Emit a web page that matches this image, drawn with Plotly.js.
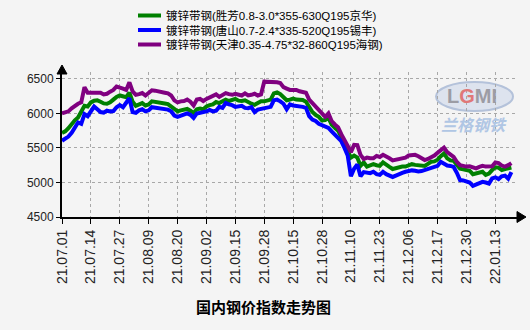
<!DOCTYPE html>
<html><head><meta charset="utf-8">
<script src="https://cdn.plot.ly/plotly-3.0.1.min.js"></script>
<style>html,body{margin:0;padding:0;background:#f4f4f4;}#chart{width:530px;height:330px;}</style>
</head><body><div id="chart"></div>
<script>
// Tick labels (one every 9 trading days)
const tickLabels = ['21.07.01','21.07.14','21.07.27','21.08.09','21.08.20','21.09.02','21.09.15','21.09.28','21.10.15','21.10.28','21.11.10','21.11.23','21.12.06','21.12.17','21.12.30','22.01.13'];
const seriesNames = ['镀锌带钢(胜芳0.8-3.0*355-630Q195京华)','镀锌带钢(唐山0.7-2.4*335-520Q195锡丰)','镀锌带钢(天津0.35-4.75*32-860Q195海钢)'];
const jinghua = [5715,5740,5785,5850,5900,5940,6020,6110,6100,6160,6185,6190,6170,6145,6140,6160,6200,6240,6260,6240,6235,6300,6170,6110,6130,6150,6115,6130,6175,6170,6160,6150,6145,6135,6100,6060,6030,6045,6050,6065,6040,6005,6060,6070,6060,6100,6120,6130,6165,6150,6175,6200,6180,6190,6210,6185,6180,6190,6160,6140,6125,6150,6175,6175,6185,6200,6290,6305,6280,6240,6190,6200,6215,6200,6200,6195,6170,6090,6020,5980,5950,5900,5905,5935,5840,5790,5750,5660,5560,5480,5360,5390,5360,5240,5290,5230,5250,5265,5250,5240,5290,5250,5225,5195,5210,5230,5230,5230,5250,5265,5255,5250,5235,5240,5270,5300,5305,5330,5380,5420,5350,5320,5315,5250,5200,5190,5185,5170,5120,5130,5140,5155,5110,5130,5180,5220,5215,5180,5195,5205,5215];
const xifeng = [5605,5630,5665,5720,5790,5870,5850,5990,5960,6040,6100,6060,6020,6010,6040,6030,6035,6090,6120,6090,6150,6220,6020,6010,6045,6060,6030,6045,6090,6085,6075,6065,6060,6055,6030,5970,5950,5970,5985,6000,5980,5935,6000,6010,6010,6030,6050,6030,6040,6095,6080,6150,6130,6120,6095,6100,6110,6080,6075,6090,6020,6055,6065,6065,6075,6095,6190,6200,6175,6140,6060,6130,6115,6110,6105,6095,6080,5960,5910,5890,5850,5830,5815,5790,5740,5695,5655,5600,5500,5390,5090,5200,5260,5090,5150,5140,5135,5155,5120,5110,5155,5120,5100,5080,5100,5125,5140,5155,5165,5175,5170,5160,5165,5180,5190,5205,5215,5240,5300,5270,5245,5240,5225,5140,5035,5030,5020,5000,4950,4975,4990,5010,5000,4985,5060,5075,5050,5090,5100,5055,5150];
const haigang = [6000,6010,6030,6075,6110,6140,6160,6380,6300,6300,6310,6305,6300,6275,6285,6315,6340,6390,6380,6360,6340,6450,6320,6270,6280,6295,6260,6300,6335,6330,6315,6300,6300,6290,6260,6190,6160,6175,6180,6200,6170,6115,6200,6210,6180,6210,6230,6250,6275,6240,6270,6295,6280,6270,6285,6270,6260,6290,6260,6270,6285,6260,6275,6460,6460,6455,6455,6450,6440,6380,6360,6340,6340,6340,6320,6310,6300,6200,6150,6100,6060,5990,5950,6000,5890,5840,5800,5700,5600,5530,5440,5545,5540,5400,5340,5360,5350,5350,5385,5370,5400,5380,5350,5320,5330,5330,5340,5360,5390,5400,5400,5380,5350,5325,5340,5360,5390,5430,5470,5505,5440,5410,5370,5300,5250,5240,5230,5235,5215,5205,5225,5240,5230,5230,5235,5290,5280,5245,5230,5250,5280];
const colors = ['#008000','#0000ff','#800080'];

const idx = jinghua.map((_, i) => i);
const tickVals = tickLabels.map((_, i) => i * 9);
const allSeries = [jinghua, xifeng, haigang];

const traces = allSeries.map((ys, k) => ({
  type: 'scatter', mode: 'lines', x: idx, y: ys, name: seriesNames[k],
  line: {color: colors[k], width: 4}, showlegend: false, hoverinfo: 'skip'
}));

// pixel -> paper helpers (plot area 62..518 x 72..217)
const PL = 62, PR = 518, PT = 72, PB = 217;
const px = x => (x - PL) / (PR - PL);
const py = y => (PB - y) / (PB - PT);

const legendY = [15.5, 30, 44.5];
const annotations = seriesNames.map((n, k) => ({
  xref: 'paper', yref: 'paper', x: px(164), y: py(legendY[k]), xanchor: 'left', yanchor: 'middle',
  text: n, showarrow: false, font: {size: 11.5, color: '#000', family: 'Liberation Sans, Arial, Noto Sans CJK SC, sans-serif'}
}));
annotations.push({xref:'paper', yref:'paper', x: px(472), y: py(96), xanchor:'center', yanchor:'middle', showarrow:false,
  text:'<b>L<span style="color:#e07878">G</span>MI</b>', font:{size:20, color:'#9c9ca4', family:'Liberation Sans, Arial'}});
annotations.push({xref:'paper', yref:'paper', x: px(474), y: py(124), xanchor:'center', yanchor:'middle', showarrow:false,
  text:'<b><i>兰格钢铁</i></b>', font:{size:16, color:'#b0c6e4', family:'Noto Sans CJK SC'}});

const shapes = colors.map((c, k) => ({
  type: 'line', xref: 'paper', yref: 'paper', x0: px(138), x1: px(161), y0: py(legendY[k]), y1: py(legendY[k]),
  line: {color: c, width: 4}
}));
// logo ellipse
shapes.push({type:'circle', xref:'paper', yref:'paper', x0:px(436), x1:px(513), y0:py(82), y1:py(111),
  fillcolor:'#dde3ee', line:{color:'#b4c2da', width:2}, layer:'below'});
// axis arrows
shapes.push({type:'path', xref:'paper', yref:'paper',
  path:`M${px(57)},${py(74)} L${px(67)},${py(74)} L${px(62)},${py(65)} Z`, fillcolor:'#000', line:{color:'#000', width:1}});
shapes.push({type:'path', xref:'paper', yref:'paper',
  path:`M${px(517)},${py(211.5)} L${px(517)},${py(222.5)} L${px(526)},${py(217)} Z`, fillcolor:'#000', line:{color:'#000', width:1}});

const layout = {
  width: 530, height: 330,
  paper_bgcolor: '#f4f4f4', plot_bgcolor: '#f4f4f4',
  margin: {l: PL, r: 530 - PR, t: PT, b: 330 - PB},
  font: {family: 'Liberation Sans, Arial, Noto Sans CJK SC, sans-serif', size: 12, color: '#000'},
  title: {text: '<b>国内钢价指数走势图</b>', x: 0.497, xref: 'container', xanchor: 'center', y: 1 - 308/330, yref: 'container', yanchor: 'middle',
    font: {size: 15, color: '#000', family: 'Noto Sans CJK SC, sans-serif'}},
  showlegend: false,
  xaxis: {
    range: [0, (PR - PL) / 3.21], tickmode: 'array', tickvals: tickVals, ticktext: tickLabels, tickangle: -90,
    showline: true, linecolor: '#000', linewidth: 2, ticks: 'outside', ticklen: 5, tickcolor: '#000', tickwidth: 1,
    showgrid: true, gridcolor: '#a8a8a8', griddash: 'dot', gridwidth: 1, zeroline: false,
    tickfont: {size: 14, color: '#222'}
  },
  yaxis: {
    range: [4500, 6600], tickmode: 'array', tickvals: [4500, 5000, 5500, 6000, 6500],
    showline: true, linecolor: '#000', linewidth: 2, ticks: 'outside', ticklen: 4, tickcolor: '#000', tickwidth: 1,
    showgrid: true, gridcolor: '#a8a8a8', griddash: 'dot', gridwidth: 1, zeroline: false,
    tickfont: {size: 12, color: '#222'}
  },
  annotations: annotations,
  shapes: shapes
};

Plotly.newPlot('chart', traces, layout, {displayModeBar: false, staticPlot: true});
</script>
</body></html>
